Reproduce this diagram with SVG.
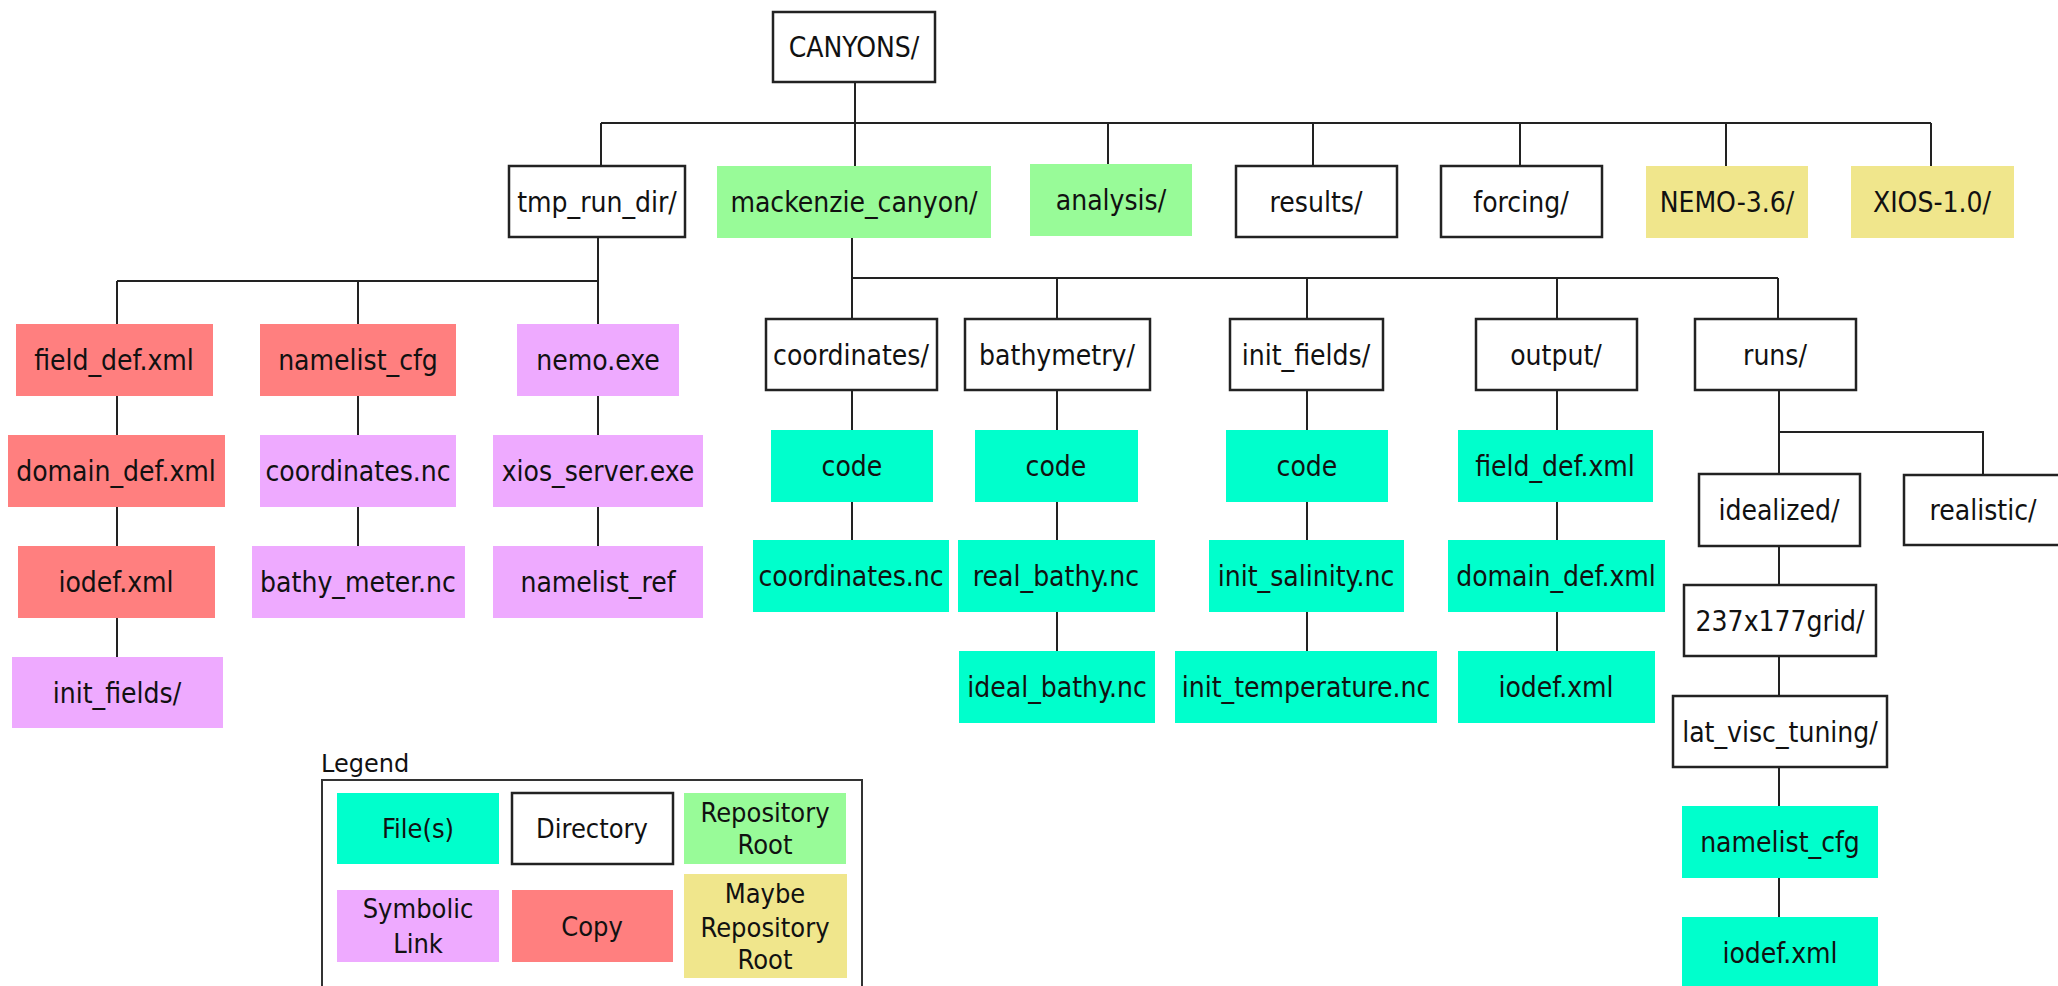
<svg xmlns="http://www.w3.org/2000/svg" width="2058" height="986" viewBox="0 0 2058 986">
<style>
.t{font-family:"DejaVu Sans Condensed","DejaVu Sans",sans-serif;font-size:28px;fill:#111;text-anchor:middle}
.lt{font-family:"DejaVu Sans Condensed","DejaVu Sans",sans-serif;font-size:27px;fill:#111;text-anchor:middle}
.dir{fill:#fff;stroke:#222;stroke-width:2.5}
.file{fill:#00ffcc}
.copy{fill:#ff7f7f}
.link{fill:#eeaaff}
.repo{fill:#98fb98}
.maybe{fill:#f0e68c}
.c{stroke:#222;stroke-width:2;fill:none}
</style>
<rect width="2058" height="986" fill="#fff"/>
<g id="connectors" class="c">
<path d="M855 82V123M601 123H1931M601 123V166M855 123V166M1108 123V164M1313 123V166M1520 123V166M1726 123V166M1931 123V166"/>
<path d="M598 237V281M117 281H598M117 281V324M358 281V324M598 281V324"/>
<path d="M117 396V435M117 507V546M117 618V657M358 396V435M358 507V546M598 396V435M598 507V546"/>
<path d="M852 238V278M852 278H1778M852 278V319M1057 278V319M1307 278V319M1557 278V319M1778 278V319"/>
<path d="M852 390V430M852 502V540M1057 390V430M1057 502V540M1057 612V651M1307 390V430M1307 502V540M1307 612V651M1557 390V430M1557 502V540M1557 612V651"/>
<path d="M1779 390V474M1779 432H1983V475M1779 546V585M1779 656V696M1779 767V806M1779 878V917"/>
</g>
<g id="n-canyons"><rect class="dir" x="773" y="12" width="162" height="70"/><text class="t" x="854" y="57">CANYONS/</text></g>
<g id="n-tmp"><rect class="dir" x="509" y="166" width="176" height="71"/><text class="t" x="597" y="212">tmp_run_dir/</text></g>
<g id="n-mack"><rect class="repo" x="717" y="166" width="274" height="72"/><text class="t" x="854" y="212">mackenzie_canyon/</text></g>
<g id="n-analysis"><rect class="repo" x="1030" y="164" width="162" height="72"/><text class="t" x="1111" y="210">analysis/</text></g>
<g id="n-results"><rect class="dir" x="1236" y="166" width="161" height="71"/><text class="t" x="1316" y="212">results/</text></g>
<g id="n-forcing"><rect class="dir" x="1441" y="166" width="161" height="71"/><text class="t" x="1521" y="212">forcing/</text></g>
<g id="n-nemo"><rect class="maybe" x="1646" y="166" width="162" height="72"/><text class="t" x="1727" y="212">NEMO-3.6/</text></g>
<g id="n-xios"><rect class="maybe" x="1851" y="166" width="163" height="72"/><text class="t" x="1932" y="212">XIOS-1.0/</text></g>

<g id="n-tfield"><rect class="copy" x="16" y="324" width="197" height="72"/><text class="t" x="114" y="370">field_def.xml</text></g>
<g id="n-tnamelist"><rect class="copy" x="260" y="324" width="196" height="72"/><text class="t" x="358" y="370">namelist_cfg</text></g>
<g id="n-tnemoexe"><rect class="link" x="517" y="324" width="162" height="72"/><text class="t" x="598" y="370">nemo.exe</text></g>
<g id="n-tdomain"><rect class="copy" x="8" y="435" width="217" height="72"/><text class="t" x="116" y="481">domain_def.xml</text></g>
<g id="n-tcoord"><rect class="link" x="260" y="435" width="196" height="72"/><text class="t" x="358" y="481">coordinates.nc</text></g>
<g id="n-txios"><rect class="link" x="493" y="435" width="210" height="72"/><text class="t" x="598" y="481">xios_server.exe</text></g>
<g id="n-tiodef"><rect class="copy" x="18" y="546" width="197" height="72"/><text class="t" x="116" y="592">iodef.xml</text></g>
<g id="n-tbathy"><rect class="link" x="252" y="546" width="213" height="72"/><text class="t" x="358" y="592">bathy_meter.nc</text></g>
<g id="n-tnlref"><rect class="link" x="493" y="546" width="210" height="72"/><text class="t" x="598" y="592">namelist_ref</text></g>
<g id="n-tinit"><rect class="link" x="12" y="657" width="211" height="71"/><text class="t" x="117" y="703">init_fields/</text></g>

<g id="n-coordinates"><rect class="dir" x="766" y="319" width="171" height="71"/><text class="t" x="851" y="365">coordinates/</text></g>
<g id="n-bathymetry"><rect class="dir" x="965" y="319" width="185" height="71"/><text class="t" x="1057" y="365">bathymetry/</text></g>
<g id="n-initfields"><rect class="dir" x="1230" y="319" width="153" height="71"/><text class="t" x="1306" y="365">init_fields/</text></g>
<g id="n-output"><rect class="dir" x="1476" y="319" width="161" height="71"/><text class="t" x="1556" y="365">output/</text></g>
<g id="n-runs"><rect class="dir" x="1695" y="319" width="161" height="71"/><text class="t" x="1775" y="365">runs/</text></g>

<g id="n-ccode"><rect class="file" x="771" y="430" width="162" height="72"/><text class="t" x="852" y="476">code</text></g>
<g id="n-bcode"><rect class="file" x="975" y="430" width="163" height="72"/><text class="t" x="1056" y="476">code</text></g>
<g id="n-icode"><rect class="file" x="1226" y="430" width="162" height="72"/><text class="t" x="1307" y="476">code</text></g>
<g id="n-ofield"><rect class="file" x="1458" y="430" width="195" height="72"/><text class="t" x="1555" y="476">field_def.xml</text></g>

<g id="n-ccoordnc"><rect class="file" x="753" y="540" width="196" height="72"/><text class="t" x="851" y="586">coordinates.nc</text></g>
<g id="n-realbathy"><rect class="file" x="958" y="540" width="197" height="72"/><text class="t" x="1056" y="586">real_bathy.nc</text></g>
<g id="n-initsal"><rect class="file" x="1209" y="540" width="195" height="72"/><text class="t" x="1306" y="586">init_salinity.nc</text></g>
<g id="n-odomain"><rect class="file" x="1448" y="540" width="217" height="72"/><text class="t" x="1556" y="586">domain_def.xml</text></g>

<g id="n-idealbathy"><rect class="file" x="959" y="651" width="196" height="72"/><text class="t" x="1057" y="697">ideal_bathy.nc</text></g>
<g id="n-inittemp"><rect class="file" x="1175" y="651" width="262" height="72"/><text class="t" x="1306" y="697">init_temperature.nc</text></g>
<g id="n-oiodef"><rect class="file" x="1458" y="651" width="197" height="72"/><text class="t" x="1556" y="697">iodef.xml</text></g>

<g id="n-idealized"><rect class="dir" x="1699" y="474" width="161" height="72"/><text class="t" x="1779" y="520">idealized/</text></g>
<g id="n-realistic"><rect class="dir" x="1904" y="475" width="161" height="70"/><text class="t" x="1983" y="520">realistic/</text></g>
<g id="n-grid"><rect class="dir" x="1684" y="585" width="192" height="71"/><text class="t" x="1780" y="631">237x177grid/</text></g>
<g id="n-latvisc"><rect class="dir" x="1673" y="696" width="214" height="71"/><text class="t" x="1780" y="742">lat_visc_tuning/</text></g>
<g id="n-rnamelist"><rect class="file" x="1682" y="806" width="196" height="72"/><text class="t" x="1780" y="852">namelist_cfg</text></g>
<g id="n-riodef"><rect class="file" x="1682" y="917" width="196" height="72"/><text class="t" x="1780" y="963">iodef.xml</text></g>

<g id="legend">
<text x="321" y="772" style="font-family:'DejaVu Sans',sans-serif;font-size:24px;fill:#111">Legend</text>
<rect x="322" y="780" width="540" height="215" fill="#fff" stroke="#333" stroke-width="2"/>
<rect class="file" x="337" y="793" width="162" height="71"/><text class="lt" x="418" y="838">File(s)</text>
<rect class="dir" x="512" y="793" width="161" height="71"/><text class="lt" x="592" y="838">Directory</text>
<rect class="repo" x="684" y="793" width="162" height="71"/><text class="lt" x="765" y="822">Repository</text><text class="lt" x="765" y="854">Root</text>
<rect class="link" x="337" y="890" width="162" height="72"/><text class="lt" x="418" y="918">Symbolic</text><text class="lt" x="418" y="953">Link</text>
<rect class="copy" x="512" y="890" width="161" height="72"/><text class="lt" x="592" y="936">Copy</text>
<rect class="maybe" x="684" y="874" width="163" height="104"/><text class="lt" x="765" y="903">Maybe</text><text class="lt" x="765" y="937">Repository</text><text class="lt" x="765" y="969">Root</text>
</g>
</svg>
